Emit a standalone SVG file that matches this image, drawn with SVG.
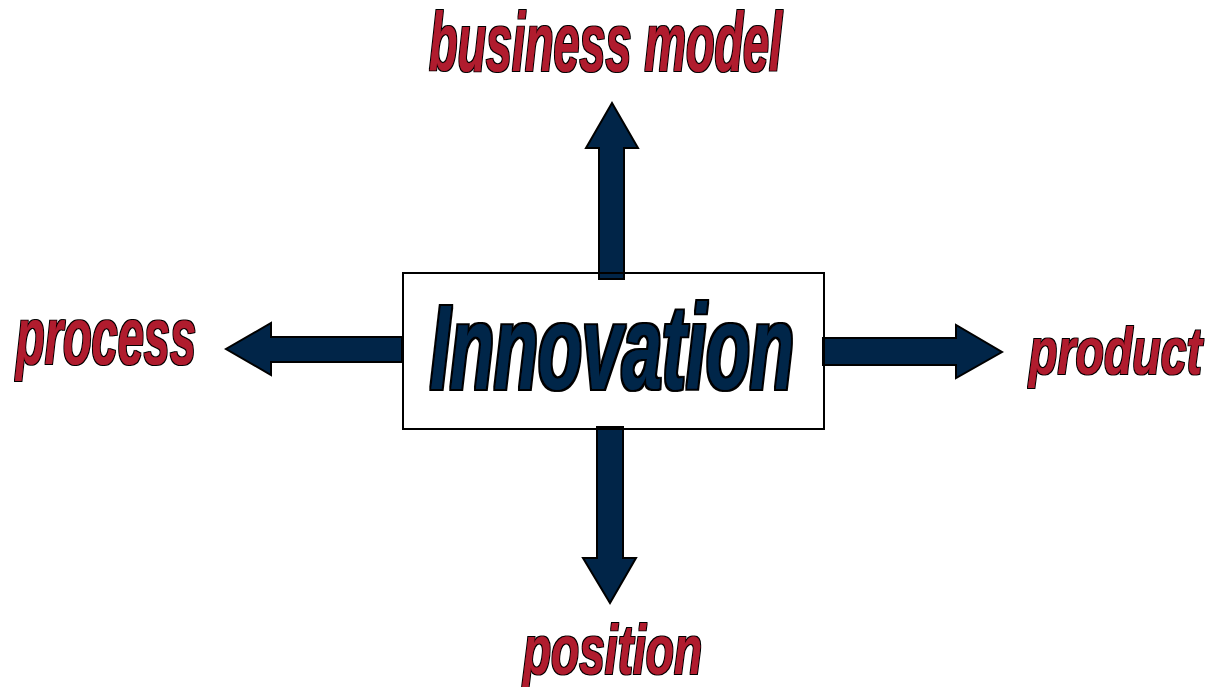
<svg xmlns="http://www.w3.org/2000/svg" width="1212" height="687" viewBox="0 0 1212 687">
  <style>
    .arrow { fill: #012548; stroke: #000; stroke-width: 2; stroke-linejoin: miter; }
    .label { font-family: "Liberation Sans", Arial, sans-serif; font-weight: bold; font-style: italic; fill: #B01A2E; filter: url(#heavy); }
    .core { font-family: "Liberation Sans", Arial, sans-serif; font-weight: bold; font-style: italic; fill: #012548; filter: url(#heavy-core); }
    .frame { fill: none; stroke: #000; stroke-width: 2; }
  </style>
  <defs>
    <!-- wraps the glyphs in a thin black outline -->
    <filter id="heavy" x="-5%" y="-20%" width="110%" height="140%">
      <feMorphology in="SourceAlpha" operator="dilate" radius="1.3" result="outline"/>
      <feMerge><feMergeNode in="outline"/><feMergeNode in="SourceGraphic"/></feMerge>
    </filter>
    <filter id="heavy-core" x="-5%" y="-20%" width="110%" height="140%">
      <feMorphology in="SourceGraphic" operator="dilate" radius="0.3" result="thick"/>
      <feMorphology in="SourceAlpha" operator="dilate" radius="1.6" result="outline"/>
      <feMerge><feMergeNode in="outline"/><feMergeNode in="thick"/></feMerge>
    </filter>
  </defs>
  <rect width="1212" height="687" fill="#fff"/>

  <!-- central box background -->
  <g id="innovation">
    <rect x="403" y="273" width="421" height="156" fill="#fff"/>
  </g>

  <!-- outward arrows -->
  <g id="connectors">
    <polygon class="arrow" points="599,279 599,148 586,148 612,103 638,148 624,148 624,279"/>
    <polygon class="arrow" points="402,337 271,337 271,323 226,349 271,375 271,362 402,362"/>
    <polygon class="arrow" points="823,338 956,338 956,325 1002,352 956,378 956,365 823,365"/>
    <polygon class="arrow" points="597,427 597,558 583,558 610,603 636,558 623,558 623,427"/>
  </g>

  <g id="innovation-frame">
    <rect class="frame" x="403" y="273" width="421" height="156"/>
    <text class="core" x="430" y="389" font-size="121" textLength="364" lengthAdjust="spacingAndGlyphs">Innovation</text>
  </g>

  <g id="business-model">
    <text class="label" x="429" y="71" font-size="83" textLength="353" lengthAdjust="spacingAndGlyphs">business model</text>
  </g>
  <g id="process">
    <text class="label" x="16" y="364" font-size="82" textLength="180" lengthAdjust="spacingAndGlyphs">process</text>
  </g>
  <g id="product">
    <text class="label" x="1029" y="374" font-size="66" textLength="173" lengthAdjust="spacingAndGlyphs">product</text>
  </g>
  <g id="position">
    <text class="label" x="523" y="674" font-size="71" textLength="179" lengthAdjust="spacingAndGlyphs">position</text>
  </g>
</svg>
